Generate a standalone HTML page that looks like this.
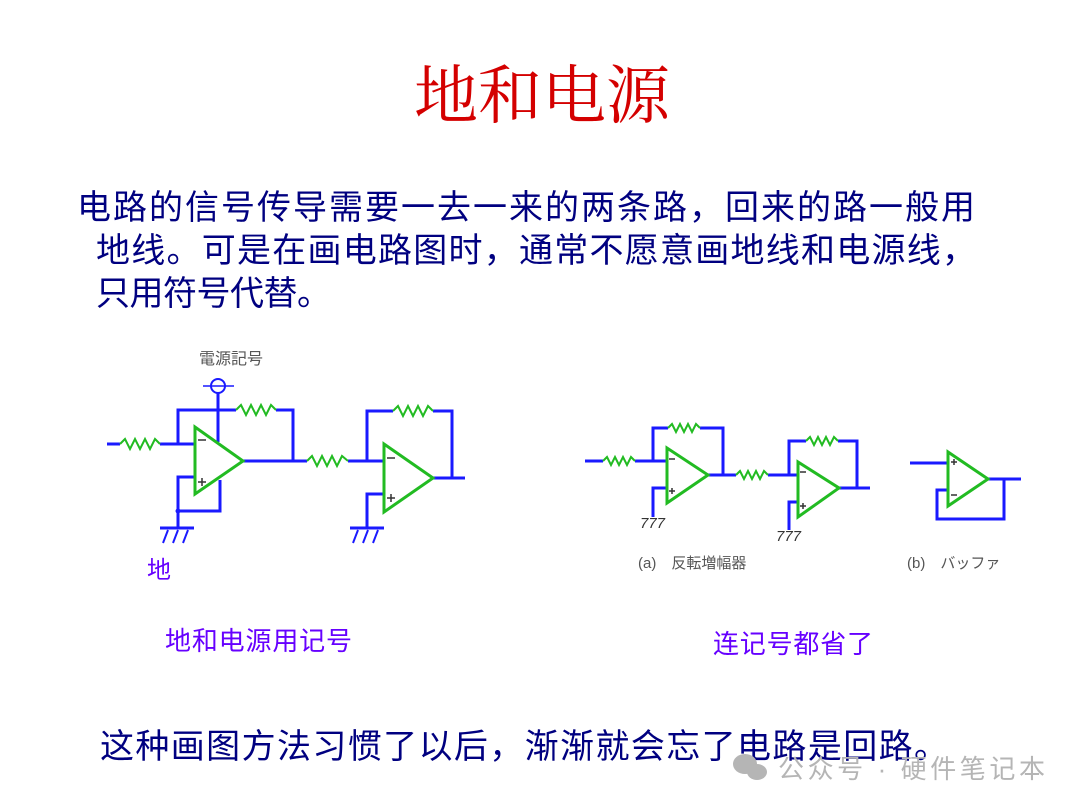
<!DOCTYPE html>
<html><head><meta charset="utf-8"><style>
html,body{margin:0;padding:0;background:#fff;}
svg{display:block;}
</style></head><body>
<svg width="1080" height="811" viewBox="0 0 1080 811" xmlns="http://www.w3.org/2000/svg">
<g font-family="'Liberation Serif','Noto Serif CJK SC',serif">
<text x="542" y="118" text-anchor="middle" font-size="64" fill="#d40000">地和电源</text>
</g>
<g font-family="'Liberation Sans','Noto Sans CJK SC',sans-serif" fill="#000080" font-size="34" font-weight="normal">
<text x="77" y="219" textLength="898" lengthAdjust="spacing">电路的信号传导需要一去一来的两条路，回来的路一般用</text>
<text x="96" y="262" textLength="880" lengthAdjust="spacing">地线。可是在画电路图时，通常不愿意画地线和电源线，</text>
<text x="96" y="305" textLength="235" lengthAdjust="spacing">只用符号代替。</text>
<text x="100" y="758" textLength="848" lengthAdjust="spacing">这种画图方法习惯了以后，渐渐就会忘了电路是回路。</text>
</g>
<g font-family="'Liberation Sans','Noto Sans CJK SC',sans-serif" fill="#6600ff" font-size="26">
<text x="165" y="650" textLength="187" lengthAdjust="spacing">地和电源用记号</text>
<text x="713" y="653" textLength="160" lengthAdjust="spacing">连记号都省了</text>
<text x="147" y="578" font-size="24">地</text>
</g>
<g font-family="'Liberation Sans','Noto Sans CJK JP',sans-serif" fill="#555" font-size="16">
<text x="199" y="364">電源記号</text>
<text x="638" y="568" font-size="15">(a)　反転増幅器</text>
<text x="907" y="568" font-size="15">(b)　バッファ</text>
</g>
<g fill="#b5b5b5">
<ellipse cx="745" cy="764" rx="12" ry="10"/><ellipse cx="757" cy="772" rx="10" ry="8"/>
<text x="778" y="778" font-family="'Liberation Sans','Noto Sans CJK SC',sans-serif" font-size="26" textLength="267" lengthAdjust="spacing">公众号 · 硬件笔记本</text>
</g>

<g fill="none" stroke="#1a1aff" stroke-width="3">
<circle cx="218" cy="386" r="7" stroke-width="2"/>
<line x1="203" y1="386" x2="234" y2="386" stroke-width="1.5"/>
<polyline points="218,393 218,442"/>
<polyline points="107,444 120,444"/>
<polyline points="160,444 195,444"/>
<polyline points="178,444 178,410 236,410"/>
<polyline points="276,410 293,410 293,461"/>
<polyline points="243,461 307,461"/>
<polyline points="348,461 384,461"/>
<polyline points="195,477 178,477 178,528"/>
<polyline points="178,511 220,511 220,480"/>
<line x1="160" y1="528" x2="194" y2="528"/>
<polyline points="367,461 367,411 393,411"/>
<polyline points="433,411 452,411 452,478"/>
<polyline points="433,478 465,478"/>
<polyline points="384,494 367,494 367,528"/>
<line x1="350" y1="528" x2="384" y2="528"/>
<polyline points="585,461 603,461"/>
<polyline points="635,461 667,461"/>
<polyline points="653,461 653,428 668,428"/>
<polyline points="700,428 723,428 723,475"/>
<polyline points="708,475 736,475"/>
<polyline points="768,475 798,475"/>
<polyline points="667,488 653,488 653,517"/>
<polyline points="789,475 789,441 806,441"/>
<polyline points="838,441 857,441 857,488"/>
<polyline points="839,488 870,488"/>
<polyline points="798,502 789,502 789,530"/>
<polyline points="910,463 948,463"/>
<polyline points="988,479 1021,479"/>
<polyline points="1004,479 1004,519 937,519 937,490 948,490"/>
</g>
<circle cx="178" cy="511" r="2.5" fill="#1a1aff"/>
<g stroke="#1a1aff" stroke-width="2">
<line x1="168" y1="530" x2="163" y2="543"/><line x1="178" y1="530" x2="173" y2="543"/><line x1="188" y1="530" x2="183" y2="543"/>
<line x1="358" y1="530" x2="353" y2="543"/><line x1="368" y1="530" x2="363" y2="543"/><line x1="378" y1="530" x2="373" y2="543"/>
</g>
<g font-family="'Liberation Sans',sans-serif" font-style="italic" font-size="15" fill="#333">
<text x="640" y="528">777</text>
<text x="776" y="541">777</text>
</g>
<g fill="none" stroke="#22bb22" stroke-width="2">
<polyline points="120,444 125,439 130,449 135,439 140,449 145,439 150,449 155,439 160,444"/>
<polyline points="236,410 241,405 246,415 251,405 256,415 261,405 266,415 271,405 276,410"/>
<polyline points="307,461 312,456 317,466 322,456 327,466 332,456 337,466 342,456 348,461"/>
<polyline points="393,411 398,406 403,416 408,406 413,416 418,406 423,416 428,406 433,411"/>
<polyline points="603,461 607,457 611,465 615,457 619,465 623,457 627,465 631,457 635,461"/>
<polyline points="668,428 672,424 676,432 680,424 684,432 688,424 692,432 696,424 700,428"/>
<polyline points="736,475 740,471 744,479 748,471 752,479 756,471 760,479 764,471 768,475"/>
<polyline points="806,441 810,437 814,445 818,437 822,445 826,437 830,445 834,437 838,441"/>
</g>
<g fill="none" stroke="#22bb22" stroke-width="3">
<polygon points="195,427 195,494 243,461"/>
<polygon points="384,444 384,512 433,478"/>
<polygon points="667,448 667,503 708,475"/>
<polygon points="798,462 798,517 839,488"/>
<polygon points="948,452 948,506 988,479"/>
</g>
<g stroke="#333" stroke-width="1.5">
<line x1="198" y1="440" x2="206" y2="440"/>
<line x1="198" y1="482" x2="206" y2="482"/><line x1="202" y1="478" x2="202" y2="486"/>
<line x1="387" y1="458" x2="395" y2="458"/>
<line x1="387" y1="498" x2="395" y2="498"/><line x1="391" y1="494" x2="391" y2="502"/>
<line x1="669" y1="459" x2="675" y2="459"/>
<line x1="669" y1="491" x2="675" y2="491"/><line x1="672" y1="488" x2="672" y2="494"/>
<line x1="800" y1="472" x2="806" y2="472"/>
<line x1="800" y1="506" x2="806" y2="506"/><line x1="803" y1="503" x2="803" y2="509"/>
<line x1="951" y1="462" x2="957" y2="462"/><line x1="954" y1="459" x2="954" y2="465"/>
<line x1="951" y1="495" x2="957" y2="495"/>
</g>
</svg>
</body></html>
